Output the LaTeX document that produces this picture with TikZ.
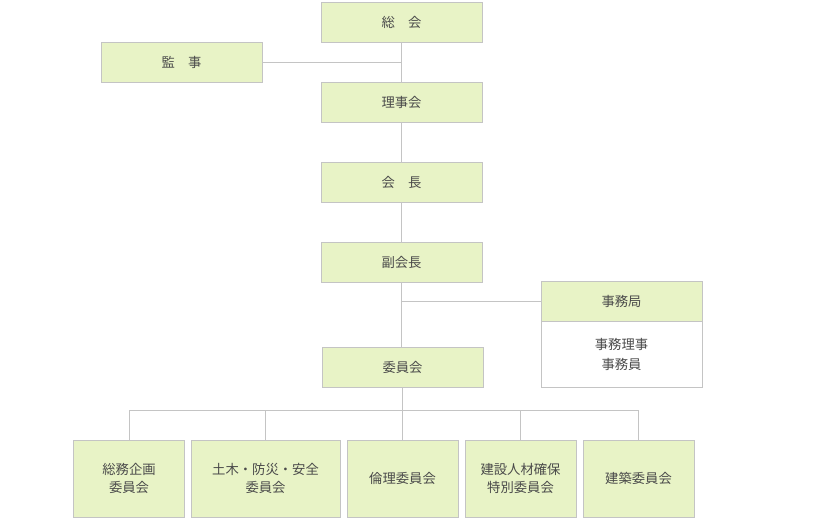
\documentclass[tikz,border=0pt]{standalone}
\usepackage{fontspec}
\newfontfamily\cjk{Noto Sans CJK JP}
\definecolor{boxfill}{HTML}{E8F3C6}
\definecolor{boxline}{HTML}{C4C4C4}
\definecolor{txt}{HTML}{4A4A4A}

\begin{document}
\begin{tikzpicture}[x=0.75pt, y=-0.75pt, font=\cjk\fontsize{10}{13}\selectfont, text=txt]
  \tikzstyle{post} = [draw=boxline, fill=boxfill, inner sep = 0pt, align=center, minimum width = 121pt, minimum height = 30pt]
  \tikzstyle{committee} = [post, minimum width = 83pt, minimum height = 58pt]
  \tikzstyle{link} = [draw=boxline, semithick]

  \useasboundingbox (0,0) rectangle (821,518);

  % Main chain
  \node[post] (soukai) at (401.5, 22) {総\quad 会};
  \node[post] (kanji) at (181.5, 62) {監\quad 事};
  \node[post] (rijikai) at (401.5, 102) {理事会};
  \node[post] (kaicho) at (401.5, 182) {会\quad 長};
  \node[post] (fuku) at (401.5, 262) {副会長};
  \node[post] (iinkai) at (402.5, 367) {委員会};

  % Secretariat
  \node[post] (jimu) at (621.5, 301) {事務局};
  \node[draw=boxline, fill=white, align=center, minimum width = 121pt, minimum height = 49.5pt,
        inner sep = 0pt, anchor=north] (staff) at (jimu.south) {事務理事\\[2pt]事務員};

  % Committees
  \node[committee] (c1) at (129, 478.5) {総務企画\\委員会};
  \node[committee, minimum width = 112pt] (c2) at (265.5, 478.5) {土木・防災・安全\\委員会};
  \node[committee] (c3) at (402.5, 478.5) {倫理委員会};
  \node[committee] (c4) at (520.5, 478.5) {建設人材確保\\特別委員会};
  \node[committee] (c5) at (638.5, 478.5) {建築委員会};

  % Connections
  \draw[link] (soukai) -- (rijikai);
  \draw[link] (rijikai) -- (kaicho);
  \draw[link] (kaicho) -- (fuku);
  \draw[link] (fuku) -- (fuku |- iinkai.north);
  \draw[link] (kanji.east) -- (kanji.east -| soukai);
  \draw[link] (jimu.west -| fuku) -- (jimu.west);
  \coordinate (bus) at (402.5, 410);
  \draw[link] (iinkai) -- (bus);
  \draw[link] (c1.north |- bus) -- (c5.north |- bus);
  \foreach \c in {c1, c2, c3, c4, c5}
    \draw[link] (\c.north |- bus) -- (\c.north);
\end{tikzpicture}
\end{document}
